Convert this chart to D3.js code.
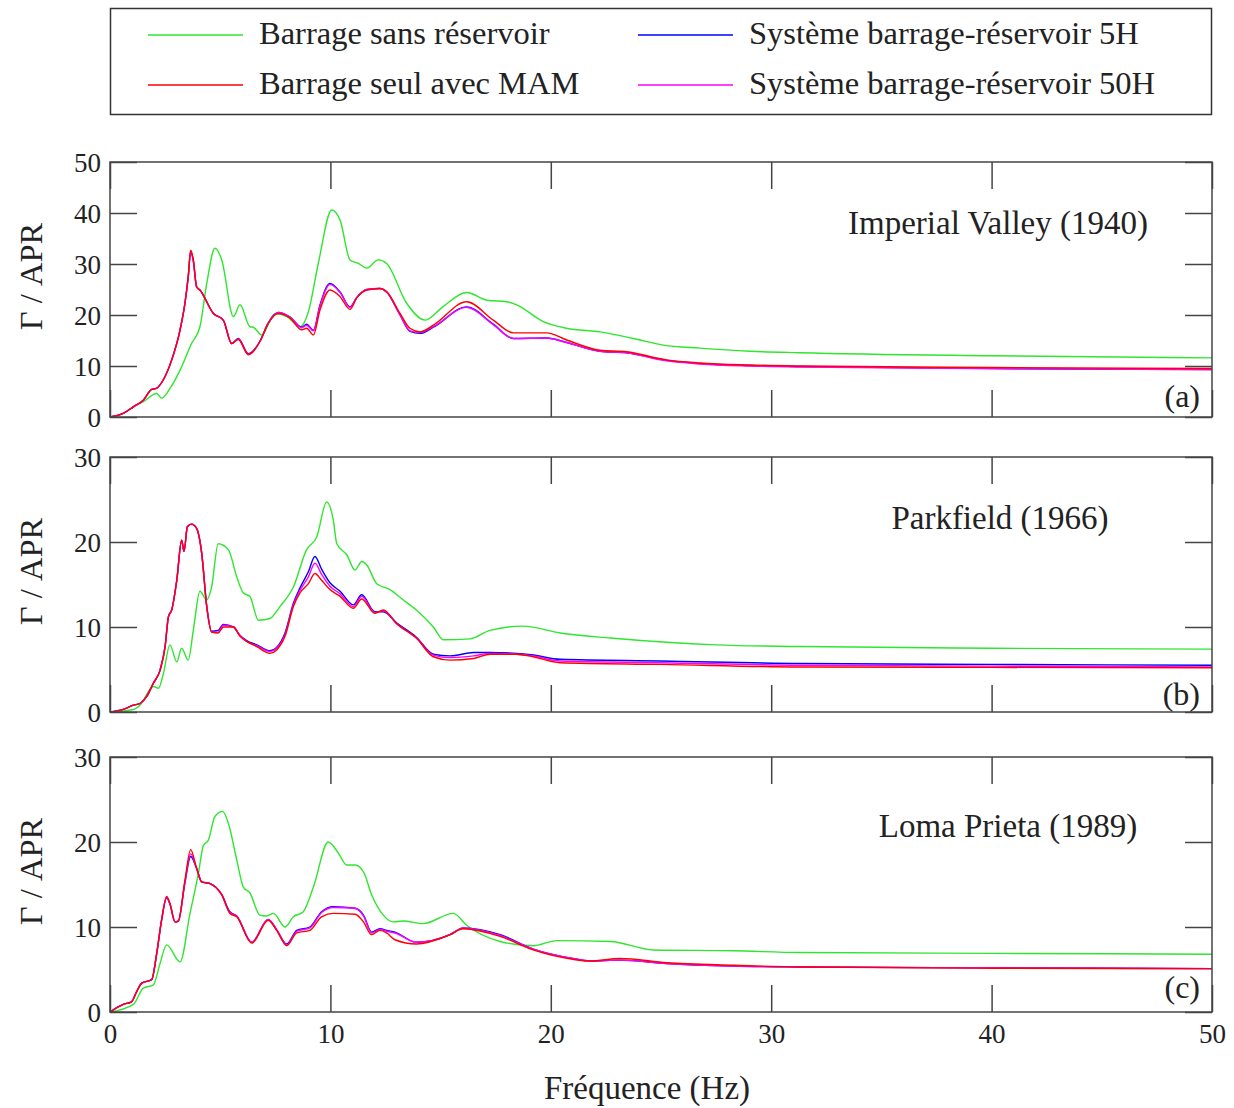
<!DOCTYPE html>
<html>
<head>
<meta charset="utf-8">
<script src="https://cdn.jsdelivr.net/npm/d3@7"></script>
<style>
  body { margin: 0; background: #fff; }
  svg text { font-family: "Liberation Serif", "DejaVu Serif", serif; fill: #222; }
</style>
</head>
<body>
<svg id="chart" width="1234" height="1108"></svg>
<script>
// series names (legend order)
const seriesNames = ["Barrage sans réservoir", "Barrage seul avec MAM", "Système barrage-réservoir 5H", "Système barrage-réservoir 50H"];
const seriesColors = ["#2ee62e", "#ff0000", "#0000ff", "#ff00ff"];

const xTicks = [0, 10, 20, 30, 40, 50];

// (a) Imperial Valley (1940) -- [freq Hz, Γ/APR]
const aGreen = [[0,0],[0.6,0.7],[1.06,2.0],[1.51,3.0],[2.12,4.6],[2.34,3.7],[2.72,5.6],[3.18,9.2],[3.7,14.4],[4.08,17.7],[4.39,26.2],[4.76,33.1],[5.07,30.8],[5.6,19.7],[5.9,22.0],[6.35,17.7],[6.5,17.6],[6.88,16.1],[7.49,20.3],[8.02,19.7],[8.62,17.7],[9.0,20.6],[9.45,30.1],[10.06,40.6],[10.44,38.6],[10.89,30.8],[11.27,30.1],[11.65,29.2],[12.17,30.8],[12.55,30.1],[13.46,22.3],[14.3,19.0],[15.1,21.6],[16.18,24.4],[17.1,22.9],[18.0,22.6],[18.45,22.0],[19.66,18.7],[20.72,17.4],[22.23,16.7],[23.74,15.4],[25.1,14.1],[26.77,13.5],[29.04,12.9],[31.3,12.6],[40,12.0],[50,11.6]];
const aRed = [[0,0],[0.6,0.7],[1.06,2.0],[1.51,3.3],[1.89,5.4],[2.1,5.6],[2.42,7.3],[2.8,11.2],[3.18,17.1],[3.4,22.3],[3.55,27.5],[3.66,32.7],[3.78,30.8],[3.93,25.5],[4.08,24.9],[4.69,20.3],[5.14,19.0],[5.52,14.4],[5.82,15.2],[6.28,12.2],[6.8,14.8],[7.18,18.4],[7.64,20.3],[8.17,19.4],[8.7,17.1],[8.92,17.4],[9.23,16.1],[9.53,21.0],[9.98,24.9],[10.44,23.6],[10.89,21.1],[11.19,23.3],[11.65,24.9],[12.25,25.2],[12.55,24.6],[13.16,20.3],[13.61,17.4],[14.07,16.7],[14.67,18.0],[16.18,22.6],[17.39,19.0],[18.3,16.5],[19.81,16.5],[20.72,15.1],[22.23,13.1],[23.44,12.8],[25.26,11.2],[26.77,10.6],[29.04,10.2],[31.3,10.0],[40,9.7],[50,9.5]];
const aBlue = [[0,0],[0.6,0.7],[1.06,2.0],[1.51,3.3],[1.89,5.4],[2.1,5.6],[2.42,7.3],[2.8,11.2],[3.18,17.1],[3.4,22.3],[3.55,27.5],[3.66,32.4],[3.78,30.6],[3.93,25.5],[4.08,24.9],[4.69,20.3],[5.14,19.0],[5.52,14.4],[5.82,15.4],[6.28,12.4],[6.8,14.8],[7.18,18.4],[7.64,20.5],[8.17,19.6],[8.7,17.6],[8.92,18.2],[9.23,17.0],[9.53,22.0],[9.98,26.2],[10.44,24.5],[10.89,21.6],[11.19,23.4],[11.65,25.0],[12.25,25.2],[12.55,24.5],[13.16,20.0],[13.61,16.8],[14.07,16.4],[14.67,17.6],[16.18,21.6],[17.39,18.2],[18.3,15.4],[19.81,15.5],[20.72,14.6],[22.23,12.9],[23.44,12.6],[25.26,11.1],[26.77,10.5],[29.04,10.1],[31.3,9.9],[40,9.5],[50,9.3]];
const aMagenta = [[0,0],[0.6,0.7],[1.06,2.0],[1.51,3.3],[1.89,5.4],[2.1,5.6],[2.42,7.3],[2.8,11.2],[3.18,17.1],[3.4,22.3],[3.55,27.5],[3.66,32.5],[3.78,30.7],[3.93,25.5],[4.08,24.9],[4.69,20.3],[5.14,19.0],[5.52,14.4],[5.82,15.3],[6.28,12.3],[6.8,14.8],[7.18,18.4],[7.64,20.5],[8.17,19.6],[8.7,17.5],[8.92,18.0],[9.23,16.9],[9.53,21.8],[9.98,26.0],[10.44,24.4],[10.89,21.5],[11.19,23.4],[11.65,25.0],[12.25,25.2],[12.55,24.5],[13.16,20.0],[13.61,16.9],[14.07,16.6],[14.67,17.7],[16.18,21.5],[17.39,18.1],[18.3,15.4],[19.81,15.5],[20.72,14.6],[22.23,12.9],[23.44,12.6],[25.26,11.0],[26.77,10.4],[29.04,10.0],[31.3,9.8],[40,9.5],[50,9.3]];

// (b) Parkfield (1966)
const bGreen = [[0,0],[1.06,0.3],[1.36,0.8],[1.97,3.0],[2.2,2.8],[2.42,4.5],[2.72,7.9],[3.03,5.9],[3.25,7.5],[3.55,6.1],[3.78,9.6],[4.08,14.2],[4.39,13.2],[4.61,14.7],[4.91,19.8],[5.37,19.1],[5.75,15.9],[6.05,14.0],[6.35,13.6],[6.73,10.8],[7.26,11.0],[7.71,12.4],[8.32,14.7],[8.92,19.1],[9.38,20.6],[9.83,24.7],[10.13,22.6],[10.29,19.8],[10.74,18.5],[11.12,16.7],[11.42,17.7],[11.65,17.3],[12.1,15.1],[12.7,14.4],[13.3,13.2],[13.9,12.0],[14.67,10.0],[15.12,8.5],[16.33,8.6],[17.24,9.6],[18.75,10.1],[20.42,9.3],[22.7,8.7],[25.26,8.2],[27.5,7.9],[31.3,7.7],[40,7.5],[50,7.4]];
const bRed = [[0,0],[0.6,0.3],[1.06,0.8],[1.36,1.0],[1.66,1.8],[1.97,3.4],[2.27,4.9],[2.5,7.7],[2.65,11.2],[2.8,12.0],[3.03,15.5],[3.25,20.2],[3.36,18.9],[3.51,21.8],[3.7,22.1],[3.93,21.6],[4.16,18.7],[4.39,12.4],[4.61,9.4],[4.91,9.3],[5.14,10.0],[5.6,10.0],[5.9,8.9],[6.2,8.3],[6.66,7.7],[7.26,6.9],[7.56,7.3],[7.94,8.9],[8.32,12.4],[8.62,14.0],[9.0,15.1],[9.3,16.3],[9.6,15.5],[9.98,14.4],[10.44,13.6],[11.04,12.2],[11.42,13.3],[12.02,11.6],[12.4,12.0],[13.0,10.4],[13.9,8.7],[14.67,6.5],[15.43,6.1],[16.5,6.3],[17.24,6.8],[18.45,6.8],[19.2,6.5],[20.42,5.8],[25,5.6],[31.3,5.3],[40,5.25],[50,5.2]];
const bBlue = [[0,0],[0.6,0.3],[1.06,0.8],[1.36,1.0],[1.66,1.8],[1.97,3.4],[2.27,4.9],[2.5,7.7],[2.65,11.2],[2.8,12.0],[3.03,15.5],[3.25,20.2],[3.36,18.9],[3.51,21.8],[3.7,22.1],[3.93,21.6],[4.16,18.7],[4.39,12.4],[4.61,9.5],[4.91,9.6],[5.14,10.3],[5.6,10.0],[5.9,9.0],[6.2,8.4],[6.66,7.9],[7.26,7.2],[7.56,7.6],[7.94,9.3],[8.32,12.8],[8.62,14.6],[9.0,16.5],[9.3,18.3],[9.6,16.8],[9.98,15.2],[10.44,14.2],[11.04,12.6],[11.42,13.8],[12.02,11.8],[12.4,11.8],[13.0,10.5],[13.9,8.8],[14.67,6.8],[15.43,6.6],[16.5,7.0],[17.24,7.0],[18.45,6.9],[19.2,6.7],[20.42,6.2],[25,6.0],[31.3,5.7],[40,5.6],[50,5.5]];
const bMagenta = [[0,0],[0.6,0.3],[1.06,0.8],[1.36,1.0],[1.66,1.8],[1.97,3.4],[2.27,4.9],[2.5,7.7],[2.65,11.2],[2.8,12.0],[3.03,15.5],[3.25,20.2],[3.36,18.9],[3.51,21.8],[3.7,22.1],[3.93,21.6],[4.16,18.7],[4.39,12.4],[4.61,9.4],[4.91,9.4],[5.14,10.2],[5.6,10.0],[5.9,9.0],[6.2,8.3],[6.66,7.8],[7.26,7.1],[7.56,7.5],[7.94,9.1],[8.32,12.6],[8.62,14.3],[9.0,15.9],[9.3,17.5],[9.6,16.2],[9.98,14.8],[10.44,13.9],[11.04,12.4],[11.42,13.6],[12.02,11.7],[12.4,11.9],[13.0,10.4],[13.9,8.7],[14.67,6.7],[15.43,6.4],[16.5,6.6],[17.24,6.9],[18.45,6.8],[19.2,6.6],[20.42,6.0],[25,5.8],[31.3,5.5],[40,5.4],[50,5.3]];

// (c) Loma Prieta (1989)
const cGreen = [[0,0],[1.06,0.9],[1.51,2.8],[1.97,3.2],[2.27,5.7],[2.57,7.9],[3.18,5.9],[3.63,11.6],[4.01,16.3],[4.24,19.6],[4.46,20.2],[4.76,23.0],[5.11,23.6],[5.37,22.2],[5.75,17.9],[6.05,14.7],[6.35,14.0],[6.8,11.4],[7.1,11.3],[7.41,11.6],[7.94,10.0],[8.32,11.2],[8.77,11.8],[9.23,14.7],[9.9,20.0],[10.36,18.7],[10.74,17.3],[11.12,17.3],[11.5,16.5],[11.87,13.8],[12.4,11.4],[12.85,10.6],[13.3,10.7],[14.2,10.4],[15.58,11.6],[16.18,10.2],[17.7,8.3],[19.2,7.8],[20.27,8.4],[22.7,8.3],[24.65,7.3],[28.28,7.2],[31.3,7.0],[40,6.9],[50,6.8]];
const cRed = [[0,0],[0.6,0.9],[0.98,1.2],[1.21,2.4],[1.44,3.4],[1.89,3.8],[2.12,6.9],[2.34,10.8],[2.57,13.6],[2.72,12.8],[2.95,10.6],[3.1,10.7],[3.4,15.5],[3.66,19.1],[3.93,16.9],[4.16,15.3],[4.54,15.1],[5.07,13.8],[5.44,11.6],[5.75,11.2],[6.43,8.1],[7.18,10.8],[7.56,9.6],[8.02,7.8],[8.47,9.3],[9.07,9.6],[9.6,11.2],[10.13,11.6],[11.12,11.5],[11.5,10.6],[11.87,9.1],[12.25,9.6],[12.55,9.3],[12.93,8.5],[13.9,8.0],[15.43,9.1],[16.03,9.8],[17.7,8.9],[19.2,7.3],[20.99,6.2],[21.78,6.0],[23.14,6.3],[25.26,5.8],[28.28,5.5],[31.3,5.3],[40,5.15],[50,5.1]];
const cBlue = [[0,0],[0.6,0.9],[0.98,1.2],[1.21,2.4],[1.44,3.4],[1.89,3.8],[2.12,6.9],[2.34,10.8],[2.57,13.4],[2.72,12.7],[2.95,10.6],[3.1,10.7],[3.4,15.2],[3.66,18.3],[3.93,16.9],[4.16,15.3],[4.54,15.1],[5.07,13.8],[5.44,11.8],[5.75,11.3],[6.43,8.2],[7.18,10.9],[7.56,9.7],[8.02,8.0],[8.47,9.6],[9.07,10.0],[9.6,11.8],[10.13,12.4],[11.12,12.2],[11.5,11.4],[11.87,9.4],[12.25,9.8],[12.55,9.6],[12.93,9.4],[13.9,8.2],[15.43,9.1],[16.03,9.9],[17.7,9.1],[19.2,7.4],[20.99,6.3],[21.78,6.0],[23.14,6.1],[25.26,5.7],[28.28,5.4],[31.3,5.3],[40,5.2],[50,5.1]];
const cMagenta = [[0,0],[0.6,0.9],[0.98,1.2],[1.21,2.4],[1.44,3.4],[1.89,3.8],[2.12,6.9],[2.34,10.8],[2.57,13.5],[2.72,12.7],[2.95,10.6],[3.1,10.7],[3.4,15.3],[3.66,18.6],[3.93,16.9],[4.16,15.3],[4.54,15.1],[5.07,13.8],[5.44,11.7],[5.75,11.3],[6.43,8.2],[7.18,10.9],[7.56,9.7],[8.02,7.9],[8.47,9.5],[9.07,9.9],[9.6,11.7],[10.13,12.3],[11.12,12.2],[11.5,11.3],[11.87,9.3],[12.25,9.7],[12.55,9.5],[12.93,9.3],[13.9,8.2],[15.43,9.1],[16.03,9.9],[17.7,9.0],[19.2,7.4],[20.99,6.3],[21.78,6.0],[23.14,6.1],[25.26,5.7],[28.28,5.4],[31.3,5.3],[40,5.2],[50,5.1]];

const panels = [
  { title: "Imperial Valley (1940)", tag: "(a)", ymax: 50, series: [aGreen, aRed, aBlue, aMagenta] },
  { title: "Parkfield (1966)", tag: "(b)", ymax: 30, series: [bGreen, bRed, bBlue, bMagenta] },
  { title: "Loma Prieta (1989)", tag: "(c)", ymax: 30, series: [cGreen, cRed, cBlue, cMagenta] }
];

const left = 110, right = 1212;
const panelTops = [162, 457, 757];
const panelH = 255;
const tick = 27;
const titlePos = [[998, 234], [1000, 529], [1008, 837]];
const tagY = [407, 705, 998];

const svg = d3.select("#chart");

const x = d3.scaleLinear().domain([0, 50]).range([left, right]);

// legend
const legend = svg.append("g");
legend.append("rect")
    .attr("x", 110.5).attr("y", 8.5).attr("width", 1101).attr("height", 106)
    .attr("fill", "none").attr("stroke", "#333").attr("stroke-width", 1.5);
const legendPos = [[148, 35], [148, 85], [638, 35], [638, 85]];
seriesNames.forEach((name, i) => {
    const [lx, ly] = legendPos[i];
    legend.append("line")
        .attr("x1", lx).attr("x2", lx + 95).attr("y1", ly).attr("y2", ly)
        .attr("stroke", seriesColors[i]).attr("stroke-width", 1.3);
    legend.append("text")
        .attr("x", lx + 111).attr("y", ly + 9)
        .attr("font-size", 32.5)
        .text(name);
});

// draw order: green, blue, magenta, red
const drawOrder = [0, 2, 3, 1];

panels.forEach((p, i) => {
    const top = panelTops[i];
    const bottom = top + panelH;
    const y = d3.scaleLinear().domain([0, p.ymax]).range([bottom, top]);
    const g = svg.append("g");
    const yTicks = d3.range(0, p.ymax + 1, 10);

    const line = d3.line()
        .x(d => x(d[0]))
        .y(d => y(d[1]))
        .curve(d3.curveMonotoneX);

    drawOrder.forEach(k => {
        g.append("path")
            .datum(p.series[k])
            .attr("fill", "none")
            .attr("stroke", seriesColors[k])
            .attr("stroke-width", 1.4)
            .attr("d", line);
    });

    // axes with inward ticks
    const isLast = i === panels.length - 1;
    const bAxis = g.append("g")
        .attr("transform", `translate(0,${bottom})`)
        .call(d3.axisBottom(x).tickValues(xTicks).tickSizeInner(-tick).tickSizeOuter(0).tickPadding(11)
            .tickFormat(isLast ? d3.format("d") : ""));
    const tAxis = g.append("g")
        .attr("transform", `translate(0,${top})`)
        .call(d3.axisTop(x).tickValues(xTicks).tickSizeInner(-tick).tickSizeOuter(0).tickFormat(""));
    const lAxis = g.append("g")
        .attr("transform", `translate(${left},0)`)
        .call(d3.axisLeft(y).tickValues(yTicks).tickSizeInner(-tick).tickSizeOuter(0).tickPadding(9).tickFormat(d3.format("d")));
    const rAxis = g.append("g")
        .attr("transform", `translate(${right},0)`)
        .call(d3.axisRight(y).tickValues(yTicks).tickSizeInner(-tick).tickSizeOuter(0).tickFormat(""));

    [bAxis, tAxis, lAxis, rAxis].forEach(a => {
        a.select(".domain").remove();
        a.selectAll(".tick line").attr("stroke", "#444").attr("stroke-width", 1.5);
        a.selectAll("text")
            .attr("font-family", "Liberation Serif, serif")
            .attr("font-size", 27)
            .attr("fill", "#222");
    });
    lAxis.selectAll("text").attr("dy", "0.35em");
    bAxis.selectAll("text").attr("dy", "0.75em");

    g.append("rect")
        .attr("x", left).attr("y", top).attr("width", right - left).attr("height", panelH)
        .attr("fill", "none").attr("stroke", "#444").attr("stroke-width", 1.5);

    g.append("text")
        .attr("x", titlePos[i][0]).attr("y", titlePos[i][1])
        .attr("text-anchor", "middle")
        .attr("font-size", 33)
        .text(p.title);

    g.append("text")
        .attr("x", right - 12).attr("y", tagY[i])
        .attr("text-anchor", "end")
        .attr("font-size", 32)
        .text(p.tag);

    g.append("text")
        .attr("transform", `translate(42,${(top + bottom) / 2 - 13}) rotate(-90)`)
        .attr("text-anchor", "middle")
        .attr("font-size", 32.5)
        .text("Γ / APR");
});

svg.append("text")
    .attr("x", 647).attr("y", 1099)
    .attr("text-anchor", "middle")
    .attr("font-size", 33)
    .text("Fréquence (Hz)");
</script>
</body>
</html>
